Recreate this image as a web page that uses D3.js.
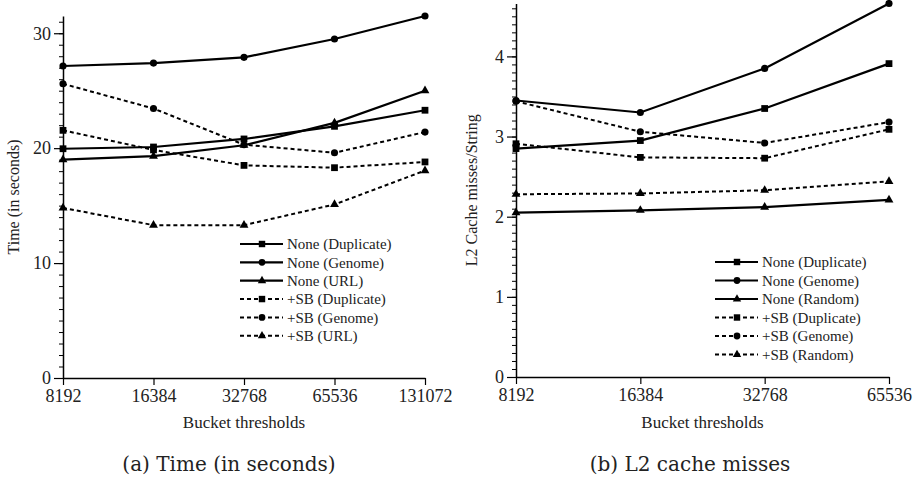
<!DOCTYPE html>
<html>
<head>
<meta charset="utf-8">
<script src="https://cdn.jsdelivr.net/npm/d3@7"></script>
<style>
  body { margin: 0; background: #fff; }
  text { font-family: "Liberation Serif", "Times New Roman", serif; fill: #222; }
  .caption { font-family: "DejaVu Serif", serif; }
</style>
</head>
<body>
<div id="chart"></div>
<script>
// --- data ---
const thresholdsA = [8192, 16384, 32768, 65536, 131072];
const noneDupA = [19.95, 20.1, 20.8, 21.9, 23.3];
const noneGenA = [27.15, 27.4, 27.9, 29.5, 31.5];
const noneUrlA = [19.0, 19.3, 20.25, 22.2, 25.0];
const sbDupA   = [21.55, 19.85, 18.5, 18.3, 18.8];
const sbGenA   = [25.6, 23.45, 20.3, 19.6, 21.4];
const sbUrlA   = [14.8, 13.3, 13.3, 15.1, 18.05];
const labelsA  = ["None (Duplicate)", "None (Genome)", "None (URL)",
                  "+SB (Duplicate)", "+SB (Genome)", "+SB (URL)"];
const yTicksA  = [0, 10, 20, 30];

const thresholdsB = [8192, 16384, 32768, 65536];
const noneDupB = [2.85, 2.95, 3.35, 3.91];
const noneGenB = [3.45, 3.30, 3.85, 4.66];
const noneRndB = [2.05, 2.08, 2.12, 2.21];
const sbDupB   = [2.91, 2.74, 2.73, 3.09];
const sbGenB   = [3.44, 3.06, 2.92, 3.18];
const sbRndB   = [2.28, 2.29, 2.33, 2.44];
const labelsB  = ["None (Duplicate)", "None (Genome)", "None (Random)",
                  "+SB (Duplicate)", "+SB (Genome)", "+SB (Random)"];
const yTicksB  = [0, 1, 2, 3, 4];

const shapes = [d3.symbolSquare, d3.symbolCircle, d3.symbolTriangle,
                d3.symbolSquare, d3.symbolCircle, d3.symbolTriangle];
function sizeOf(s) {
  if (s === d3.symbolSquare) return 46;
  if (s === d3.symbolCircle) return 40;
  return 34;
}
const dashes = [null, null, null, "4,3", "4,3", "4,3"];

const width = 923, height = 482;
const svg = d3.select("#chart").append("svg")
  .attr("width", width).attr("height", height);

function drawPanel(cfg) {
  const g = svg.append("g");
  const x = d3.scaleLog().base(2).domain(d3.extent(cfg.xs)).range([cfg.left, cfg.right]);
  const y = d3.scaleLinear().domain([0, cfg.ymax]).range([cfg.bottom, cfg.top]);

  // x axis
  const xAxis = g.append("g")
    .attr("transform", `translate(0,${cfg.bottom})`)
    .call(d3.axisBottom(x).tickValues(cfg.xs).tickFormat(d3.format("d"))
      .tickSize(7).tickSizeOuter(0));
  xAxis.select(".domain").attr("stroke", "#000").attr("stroke-width", 1.5);
  xAxis.selectAll(".tick line").attr("stroke", "#000").attr("stroke-width", 1.2);
  xAxis.selectAll(".tick text")
    .attr("font-size", 18).attr("fill", "#222").attr("y", 11).attr("dy", "0.71em");

  // y axis: minor ticks then major
  const yMinor = g.append("g")
    .attr("transform", `translate(${cfg.left},0)`)
    .call(d3.axisLeft(y).tickValues(cfg.minor).tickSize(4).tickFormat("").tickSizeOuter(0));
  yMinor.select(".domain").remove();
  yMinor.selectAll(".tick line").attr("stroke", "#000").attr("stroke-width", 1);

  const yAxis = g.append("g")
    .attr("transform", `translate(${cfg.left},0)`)
    .call(d3.axisLeft(y).tickValues(cfg.yTicks).tickFormat(d3.format("d"))
      .tickSize(9).tickSizeOuter(0).tickPadding(3));
  yAxis.select(".domain").attr("stroke", "#000").attr("stroke-width", 1.5);
  yAxis.selectAll(".tick line").attr("stroke", "#000").attr("stroke-width", 1.2);
  yAxis.selectAll(".tick text").attr("font-size", 18).attr("fill", "#222");

  // axis titles
  g.append("text")
    .attr("x", (cfg.left + cfg.right) / 2).attr("y", 428)
    .attr("text-anchor", "middle").attr("font-size", 17)
    .text("Bucket thresholds");
  g.append("text")
    .attr("transform", `translate(${cfg.yLabelX},${(cfg.top + cfg.bottom) / 2}) rotate(-90)`)
    .attr("text-anchor", "middle").attr("font-size", 16)
    .text(cfg.yLabel);

  // series
  const line = d3.line().x(d => x(d[0])).y(d => y(d[1]));
  cfg.series.forEach((vals, i) => {
    const pts = cfg.xs.map((t, j) => [t, vals[j]]);
    g.append("path")
      .attr("d", line(pts))
      .attr("fill", "none").attr("stroke", "#000")
      .attr("stroke-width", i < 3 ? 2.2 : 2)
      .attr("stroke-dasharray", dashes[i]);
    g.selectAll(null).data(pts).enter().append("path")
      .attr("transform", d => `translate(${x(d[0])},${y(d[1])})`)
      .attr("d", d3.symbol().type(shapes[i]).size(sizeOf(shapes[i])))
      .attr("fill", "#000");
  });

  // legend
  const lg = g.append("g").attr("transform", `translate(${cfg.legX},${cfg.legY})`);
  cfg.labels.forEach((lab, i) => {
    const row = lg.append("g").attr("transform", `translate(0,${i * cfg.legStep})`);
    row.append("line")
      .attr("x1", 0).attr("x2", 43).attr("y1", 0).attr("y2", 0)
      .attr("stroke", "#000").attr("stroke-width", i < 3 ? 2.2 : 2)
      .attr("stroke-dasharray", dashes[i]);
    row.append("path")
      .attr("transform", "translate(22,0)")
      .attr("d", d3.symbol().type(shapes[i]).size(sizeOf(shapes[i]) * 0.9))
      .attr("fill", "#000");
    row.append("text")
      .attr("x", 47).attr("dy", "0.35em").attr("font-size", 15)
      .text(lab);
  });

  // caption
  g.append("text").attr("class", "caption")
    .attr("x", cfg.capX).attr("y", 471)
    .attr("text-anchor", "middle").attr("font-size", 20)
    .text(cfg.caption);
}

drawPanel({
  xs: thresholdsA, series: [noneDupA, noneGenA, noneUrlA, sbDupA, sbGenA, sbUrlA],
  labels: labelsA, yTicks: yTicksA, minor: d3.range(0, 32, 1), ymax: 31.5,
  left: 63, right: 425, top: 16, bottom: 378,
  yLabel: "Time (in seconds)", yLabelX: 19,
  legX: 240, legY: 244, legStep: 18.35,
  caption: "(a) Time (in seconds)", capX: 229
});

drawPanel({
  xs: thresholdsB, series: [noneDupB, noneGenB, noneRndB, sbDupB, sbGenB, sbRndB],
  labels: labelsB, yTicks: yTicksB, minor: d3.range(0, 4.65, 0.1), ymax: 4.66,
  left: 516, right: 889, top: 3.5, bottom: 377,
  yLabel: "L2 Cache misses/String", yLabelX: 477,
  legX: 715, legY: 262, legStep: 18.5,
  caption: "(b) L2 cache misses", capX: 690
});
</script>
</body>
</html>
